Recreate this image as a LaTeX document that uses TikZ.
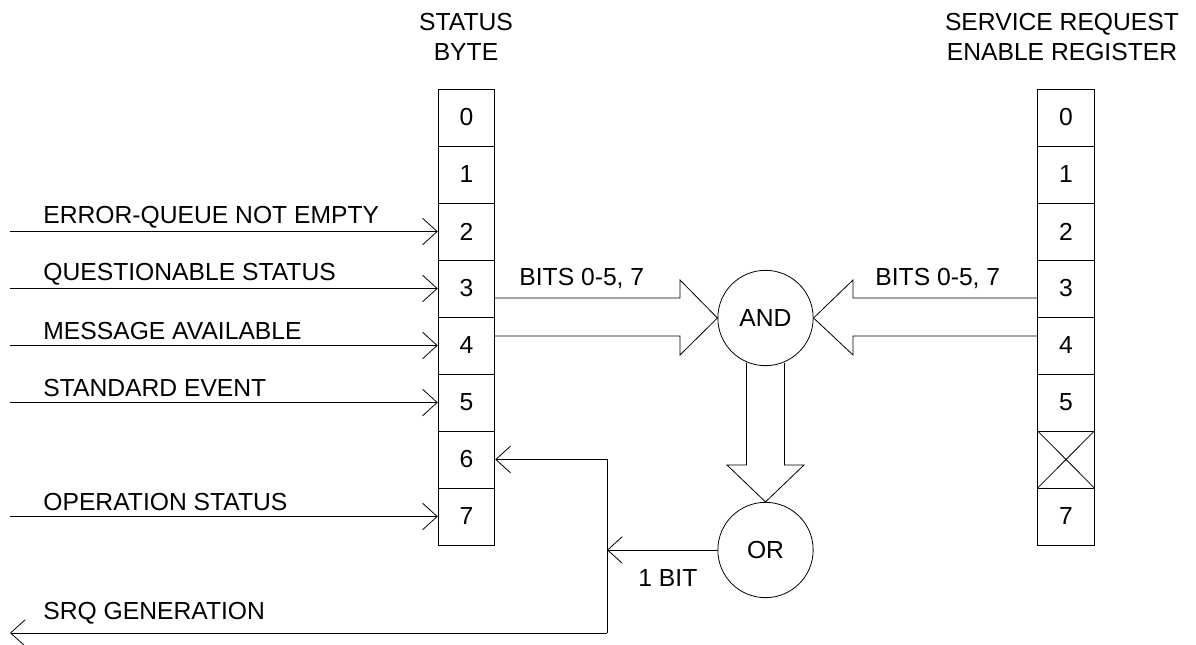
\documentclass[tikz,border=0pt]{standalone}
\usepackage{fontspec}
\setmainfont{Liberation Sans}
\usetikzlibrary{arrows.meta,calc}
\begin{document}
\begin{tikzpicture}[x=0.75pt,y=-0.75pt,
  font=\fontsize{18.5pt}{22.5pt}\selectfont,
  line width=0.6pt,
  cell/.style={draw,minimum width=42.5pt,minimum height=42.75pt,inner sep=0pt,anchor=center},
  gate/.style={draw,circle,minimum size=71.5pt,inner sep=0pt},
  vhead/.style={-{Straight Barb[length=11pt,width=20pt]}},
  lbl/.style={anchor=west,inner sep=0pt},
  title/.style={align=center,inner sep=0pt}]
\useasboundingbox (0,0) rectangle (1196,645);

% register titles
\node[title] (sbtitle) at (466,37) {STATUS\\BYTE};
\node[title] (srtitle) at (1062,37) {SERVICE REQUEST\\ENABLE REGISTER};

% status byte and enable register cells
\foreach \i in {0,...,7} {
  \node[cell] (sb\i) at (466.5,{117.5+57*\i}) {\i};
}
\foreach \i in {0,...,5,7} {
  \node[cell] (sr\i) at (1066,{117.5+57*\i}) {\i};
}
\node[cell] (sr6) at (1066,{117.5+57*6}) {};
\draw (sr6.north west) -- (sr6.south east) (sr6.north east) -- (sr6.south west);

% summary inputs to the status byte
\coordinate (in2) at (10,231.5);
\coordinate (in3) at (10,288.5);
\coordinate (in4) at (10,345.5);
\coordinate (in5) at (10,402.5);
\coordinate (in7) at (10,516.5);
\draw[vhead] (in2) -- (sb2.west);
\draw[vhead] (in3) -- (sb3.west);
\draw[vhead] (in4) -- (sb4.west);
\draw[vhead] (in5) -- (sb5.west);
\draw[vhead] (in7) -- (sb7.west);
\node[lbl] (l2) at (43,217) {ERROR-QUEUE NOT EMPTY};
\node[lbl] (l3) at (43,274) {QUESTIONABLE STATUS};
\node[lbl] (l4) at (43,331) {MESSAGE AVAILABLE};
\node[lbl] (l5) at (43,388) {STANDARD EVENT};
\node[lbl] (l7) at (43,502) {OPERATION STATUS};

% logic gates
\node[gate] (and) at (765.5,318) {AND};
\node[gate] (or) at (765.5,550) {OR};

% wide arrows into and out of the AND gate
\draw (495,298) -- (680,298) -- (680,280) -- (and.west) -- (680,355) -- (680,336) -- (495,336);
\draw (1038,298) -- (853,298) -- (853,280) -- (and.east) -- (853,355) -- (853,336) -- (1038,336);
\draw (746.5,363) -- (746.5,465) -- (727,465) -- (or.north) -- (804,465) -- (784.5,465) -- (784.5,363);
\node[lbl] (bl) at (519,278) {BITS 0-5, 7};
\node[lbl] (br) at (875,278) {BITS 0-5, 7};

% service request bit fed back to bit 6 and out as SRQ
\coordinate (j) at (607,550);
\coordinate (jt) at (607,459.5);
\coordinate (jb) at (607,633);
\coordinate (srq) at (10,633);
\draw[vhead] (or.west) -- (j);
\draw[vhead] (jb) -- (jt) -- (sb6.east);
\draw[vhead] (jb) -- (srq);
\node[lbl] (bit) at (638,578) {1 BIT};
\node[lbl] (lsrq) at (43,613) {SRQ GENERATION};
\end{tikzpicture}
\end{document}
